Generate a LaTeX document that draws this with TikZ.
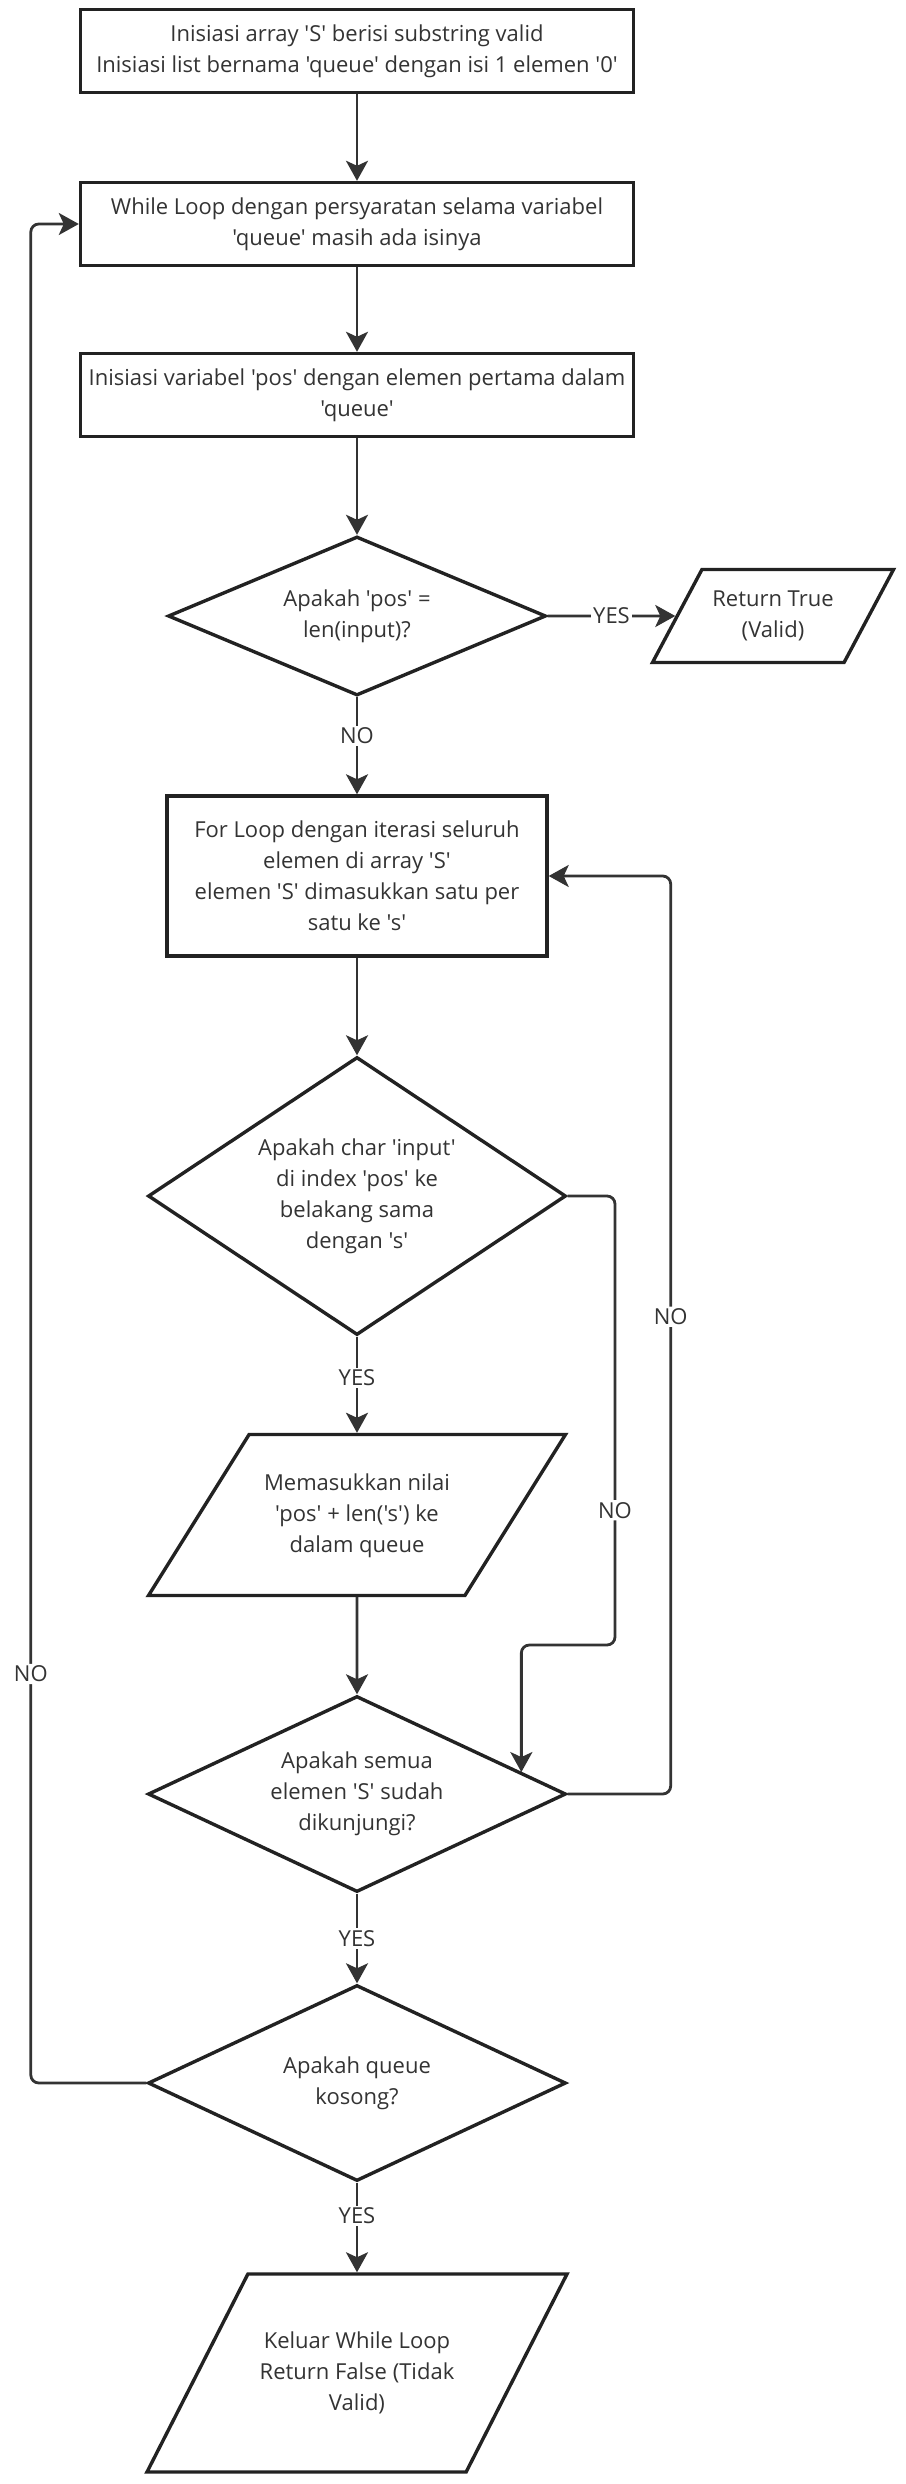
\documentclass[tikz,border=0pt]{standalone}
\usepackage{fontspec}
\setmainfont{Open Sans}[Ligatures=TeXOff]
\usetikzlibrary{shapes.geometric, arrows.meta, calc}
\definecolor{garis}{HTML}{222222}
\definecolor{panah}{HTML}{333333}
\definecolor{teks}{HTML}{333333}
\newcommand{\isi}[2]{\vbox to #1{\vss\hbox{\begin{tabular}{@{}c@{}}#2\end{tabular}}\vss}}

\begin{document}
\begin{tikzpicture}[x=1pt, y=-1pt, font=\fontsize{22}{31}\selectfont, text=teks,
  kotak/.style={rectangle, draw=garis, line width=3.4pt, align=center, inner sep=0pt},
  belah/.style={diamond, draw=garis, line width=3.4pt, align=center, inner sep=0pt},
  jajar/.style={trapezium, trapezium stretches body, draw=garis, line width=3.4pt, inner sep=0pt},
  alur/.style={draw=panah, line width=2.8pt, -{Stealth[length=20pt, width=22pt, inset=5pt]}},
  lbl/.style={fill=white, inner sep=2pt}]
\useasboundingbox (0,0) rectangle (905,2484);

\node [kotak, minimum width=553pt, minimum height=83pt] (init) at (357,51) {Inisiasi array 'S' berisi substring valid\\Inisiasi list bernama 'queue' dengan isi 1 elemen '0'};
\node [kotak, minimum width=553pt, minimum height=83pt] (whileloop) at (357,224) {While Loop dengan persyaratan selama variabel\\'queue' masih ada isinya};
\node [kotak, minimum width=553pt, minimum height=83pt] (initpos) at (357,395) {Inisiasi variabel 'pos' dengan elemen pertama dalam\\'queue'};
\node [belah, aspect=2.38, minimum width=378pt, minimum height=159pt] (cekpos) at (357,616) {Apakah 'pos' =\\len(input)?};
\node [jajar, trapezium left angle=62, trapezium right angle=118, minimum width=241pt] (rettrue) at (773,616) {\isi{93pt}{Return True\\(Valid)}};
\node [kotak, minimum width=380pt, minimum height=160pt] (forloop) at (357,876) {For Loop dengan iterasi seluruh\\elemen di array 'S'\\elemen 'S' dimasukkan satu per\\satu ke 's'};
\node [belah, aspect=1.5, minimum width=418pt, minimum height=278pt] (cekchar) at (357,1196) {Apakah char 'input'\\di index 'pos' ke\\belakang sama\\dengan 's'};
\node [jajar, trapezium left angle=58, trapezium right angle=122, minimum width=417pt] (tambah) at (357,1515) {\isi{161pt}{Memasukkan nilai\\'pos' + len('s') ke\\dalam queue}};
\node [belah, aspect=2.13, minimum width=418pt, minimum height=196pt] (ceksemua) at (357,1794) {Apakah semua\\elemen 'S' sudah\\dikunjungi?};
\node [belah, aspect=2.13, minimum width=418pt, minimum height=196pt] (cekqueue) at (357,2083) {Apakah queue\\kosong?};
\node [jajar, trapezium left angle=63, trapezium right angle=117, minimum width=420pt] (keluar) at (357,2373) {\isi{198pt}{Keluar While Loop\\Return False (Tidak\\Valid)}};
\coordinate (masuk) at ($(ceksemua.north)!0.78!(ceksemua.east)$);

\draw[alur] (init) -- (whileloop);
\draw[alur] (whileloop) -- (initpos);
\draw[alur] (initpos) -- (cekpos);
\draw[alur] (cekpos.east) -- node[lbl] {YES} (rettrue);
\draw[alur] (cekpos) -- node[lbl, pos=0.4] {NO} (forloop);
\draw[alur] (forloop) -- (cekchar);
\draw[alur] (cekchar) -- node[lbl, pos=0.43] {YES} (tambah);
\draw[alur] (tambah) -- (ceksemua);
\draw[alur] (ceksemua) -- node[lbl] {YES} (cekqueue);
\draw[alur] (cekqueue) -- node[lbl, pos=0.37] {YES} (keluar);
\draw[alur, rounded corners=8pt] (cekchar.east) -| node[lbl, pos=0.85] {NO} (615,1645) -| (masuk);
\draw[alur, rounded corners=8pt] (ceksemua.east) -| node[lbl, pos=0.76] {NO} ([xshift=122pt]forloop.east) -- (forloop.east);
\draw[alur, rounded corners=8pt] (cekqueue.west) -| node[lbl, pos=0.61] {NO} ([xshift=-48pt]whileloop.west) -- (whileloop.west);
\end{tikzpicture}
\end{document}
